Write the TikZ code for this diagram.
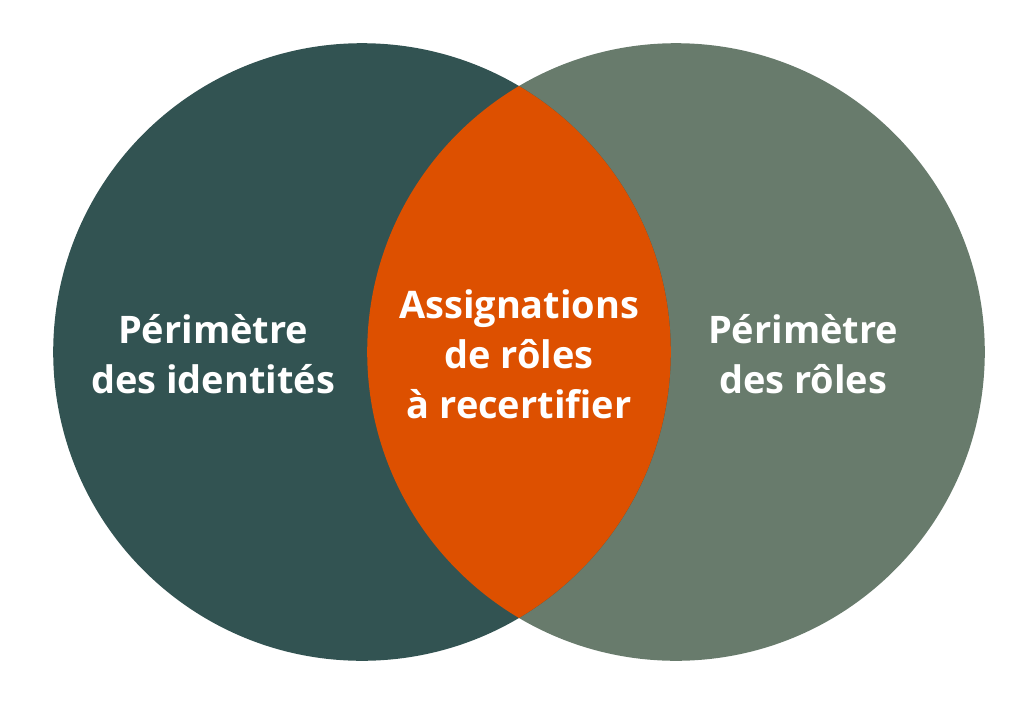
\documentclass[tikz,border=0pt]{standalone}
\usepackage{fontspec}
\setmainfont{Open Sans}
\definecolor{tealdark}{RGB}{50,83,82}
\definecolor{sage}{RGB}{104,123,108}
\definecolor{rust}{RGB}{221,80,0}
\tikzset{
  label/.style={text=white,align=center,font=\fontsize{27}{35.5}\selectfont\bfseries},
}
\begin{document}
\begin{tikzpicture}

  \useasboundingbox (0,0) rectangle (25.6,-17.775);

  \fill[sage] (16.9,-8.8) circle (7.72);
\fill[tealdark] (9.05,-8.8) circle (7.72);
  \begin{scope}
    \clip (16.9,-8.8) circle (7.72);
    \fill[rust] (9.05,-8.8) circle (7.72);
  \end{scope}

  \draw (5.33,-8.85) node[label] (ids) {Périmètre\\des identités};
\draw (12.98,-8.85) node[label] (assign) {Assignations\\de rôles\\à recertifier};
\draw (20.08,-8.85) node[label] (roles) {Périmètre\\des rôles};

\end{tikzpicture}
\end{document}
